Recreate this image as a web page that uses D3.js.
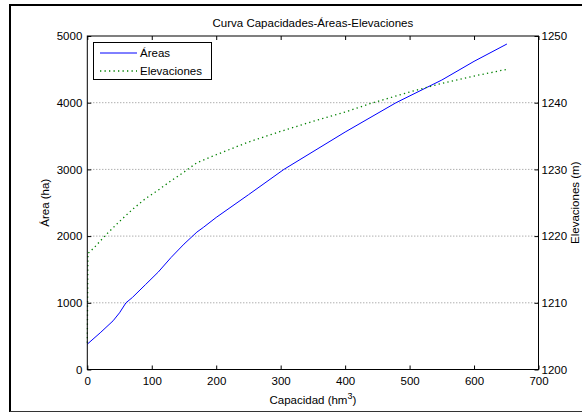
<!DOCTYPE html>
<html>
<head>
<meta charset="utf-8">
<script src="https://cdn.jsdelivr.net/npm/d3@7"></script>
<style>
  body { margin: 0; background: #fff; }
  svg text { font-family: "Liberation Sans", Arial, Helvetica, sans-serif; fill: #000; }
</style>
</head>
<body>
<div id="chart"></div>
<script>
// capacidad (hm3) vs area (ha)
var areaCap = [0, 20, 40, 50, 60, 70, 90, 110, 130, 150, 170, 180, 200, 250, 305, 400, 479, 550, 600, 651];
var areaVal = [380, 550, 730, 850, 1000, 1080, 1270, 1460, 1680, 1880, 2060, 2130, 2280, 2620, 3000, 3560, 4000, 4340, 4620, 4880];

// capacidad (hm3) vs elevacion (m)
var elevCap = [0, 1, 10, 30, 50, 70, 90, 110, 130, 150, 170, 200, 250, 300, 350, 400, 440, 500, 550, 600, 651];
var elevVal = [1204, 1217.4, 1218.2, 1220.3, 1222.2, 1224, 1225.6, 1226.9, 1228.3, 1229.6, 1231,
               1232.2, 1234.1, 1235.7, 1237.2, 1238.6, 1239.9, 1241.6, 1242.9, 1244, 1245];

var xTicks = [0, 100, 200, 300, 400, 500, 600, 700];
var areaTicks = [0, 1000, 2000, 3000, 4000, 5000];
var elevTicks = [1200, 1210, 1220, 1230, 1240, 1250];

var width = 582, height = 413;
var plotL = 87.3, plotR = 538.5, plotT = 36, plotB = 369.5;

var svg = d3.select('#chart').append('svg')
    .attr('width', width)
    .attr('height', height);

// figure frame
svg.append('line').attr('x1', 10).attr('y1', 5).attr('x2', 600).attr('y2', 5)
    .attr('stroke', '#000').attr('stroke-width', 2);
svg.append('line').attr('x1', 10).attr('y1', 4).attr('x2', 10).attr('y2', 412)
    .attr('stroke', '#000').attr('stroke-width', 2);
svg.append('line').attr('x1', 10).attr('y1', 411.5).attr('x2', 600).attr('y2', 411.5)
    .attr('stroke', '#333').attr('stroke-width', 1);

var x = d3.scaleLinear().domain([0, 700]).range([plotL, plotR]);
var yA = d3.scaleLinear().domain([0, 5000]).range([plotB, plotT]);
var yE = d3.scaleLinear().domain([1200, 1250]).range([plotB, plotT]);

// horizontal grid
svg.append('g').selectAll('line')
    .data(areaTicks.slice(1, -1))
    .enter().append('line')
    .attr('x1', plotL).attr('x2', plotR)
    .attr('y1', function(d) { return yA(d); })
    .attr('y2', function(d) { return yA(d); })
    .attr('stroke', '#8c8c8c')
    .attr('stroke-width', 1)
    .attr('stroke-dasharray', '1,2');

// lines
var areaLine = d3.line()
    .x(function(d, i) { return x(areaCap[i]); })
    .y(function(d) { return yA(d); });
var elevLine = d3.line()
    .x(function(d, i) { return x(elevCap[i]); })
    .y(function(d) { return yE(d); });

svg.append('path').attr('d', areaLine(areaVal))
    .attr('fill', 'none').attr('stroke', '#0000ff').attr('stroke-width', 1);
svg.append('path').attr('d', elevLine(elevVal))
    .attr('fill', 'none').attr('stroke', '#008000').attr('stroke-width', 1.3)
    .attr('stroke-dasharray', '1.3,3.2');

// axes
function styleAxis(g) {
    g.select('.domain').remove();
    g.selectAll('.tick line').attr('stroke', '#000');
    g.selectAll('.tick text').style('font-size', '11.5px')
        .style('font-family', '"Liberation Sans", Arial, sans-serif');
}

svg.append('g').attr('transform', 'translate(0,' + plotB + ')')
    .call(d3.axisBottom(x).tickValues(xTicks).tickSize(-4).tickPadding(7).tickFormat(d3.format('d')))
    .call(styleAxis);
svg.append('g').attr('transform', 'translate(0,' + plotT + ')')
    .call(d3.axisTop(x).tickValues(xTicks).tickSize(-4).tickFormat(''))
    .call(styleAxis);
svg.append('g').attr('transform', 'translate(' + plotL + ',0)')
    .call(d3.axisLeft(yA).tickValues(areaTicks).tickSize(-4).tickPadding(5).tickFormat(d3.format('d')))
    .call(styleAxis);
svg.append('g').attr('transform', 'translate(' + plotR + ',0)')
    .call(d3.axisRight(yE).tickValues(elevTicks).tickSize(-4).tickPadding(3).tickFormat(d3.format('d')))
    .call(styleAxis);

// plot box
svg.append('rect')
    .attr('x', plotL).attr('y', plotT)
    .attr('width', plotR - plotL).attr('height', plotB - plotT)
    .attr('fill', 'none').attr('stroke', '#000').attr('stroke-width', 1);

// texts
svg.append('text').attr('x', (plotL + plotR) / 2).attr('y', 27)
    .attr('text-anchor', 'middle').style('font-size', '11.5px')
    .text('Curva Capacidades-Áreas-Elevaciones');

var xl = svg.append('text').attr('x', (plotL + plotR) / 2).attr('y', 404)
    .attr('text-anchor', 'middle').style('font-size', '11.5px');
xl.append('tspan').text('Capacidad (hm');
xl.append('tspan').attr('dy', -5).style('font-size', '9px').text('3');
xl.append('tspan').attr('dy', 5).text(')');

svg.append('text')
    .attr('transform', 'translate(49,' + (plotT + plotB) / 2 + ') rotate(-90)')
    .attr('text-anchor', 'middle').style('font-size', '11.5px')
    .text('Área (ha)');
svg.append('text')
    .attr('transform', 'translate(579,' + (plotT + plotB) / 2 + ') rotate(-90)')
    .attr('text-anchor', 'middle').style('font-size', '11.5px')
    .text('Elevaciones (m)');

// legend
var lg = svg.append('g');
lg.append('rect').attr('x', 93.5).attr('y', 42.5).attr('width', 118).attr('height', 37)
    .attr('fill', '#fff').attr('stroke', '#000').attr('stroke-width', 1);
lg.append('line').attr('x1', 100).attr('x2', 137).attr('y1', 53).attr('y2', 53)
    .attr('stroke', '#0000ff').attr('stroke-width', 1);
lg.append('line').attr('x1', 100).attr('x2', 137).attr('y1', 71).attr('y2', 71)
    .attr('stroke', '#008000').attr('stroke-width', 1.3).attr('stroke-dasharray', '1.3,3.2');
lg.append('text').attr('x', 140).attr('y', 57).style('font-size', '11.5px').text('Áreas');
lg.append('text').attr('x', 140).attr('y', 75).style('font-size', '11.5px').text('Elevaciones');
</script>
</body>
</html>
